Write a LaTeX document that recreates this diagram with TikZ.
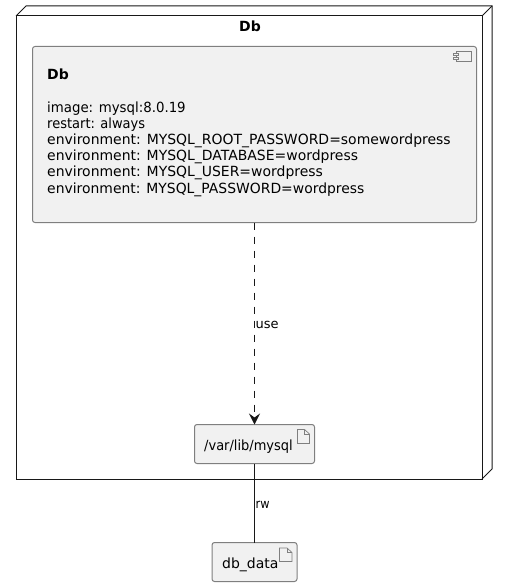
\documentclass[tikz,border=0pt]{standalone}
\usepackage{graphicx}
\usepackage{fontspec}
\setmainfont{DejaVu Sans}
\usetikzlibrary{arrows.meta}
\definecolor{boxfill}{HTML}{F1F1F1}
\definecolor{boxline}{HTML}{7F7F7F}
\definecolor{nodeline}{HTML}{181818}
\newcommand{\fitw}[2]{\scalebox{#1}[1]{#2}}
\tikzset{
  x=1pt,y=-1pt,
  boxshape/.style={draw=boxline,fill=boxfill,line width=1pt,rounded corners=2.5pt},
  nodeedge/.style={draw=nodeline,line width=1pt,line join=miter},
  iconline/.style={draw=boxline,line width=.7pt,fill=boxfill},
  txt/.style={font=\fontsize{14}{16}\selectfont,text=black,inner sep=0pt,anchor=base west},
  lbl/.style={font=\fontsize{13}{15}\selectfont,text=black,inner sep=0pt,anchor=base west},
  conn/.style={draw=nodeline,line width=1pt},
  conndash/.style={conn,dash pattern=on 7pt off 7pt,-{Stealth[length=11pt,width=11pt,inset=4pt]}}
}
\begin{document}
\begin{tikzpicture}
\useasboundingbox (0,0) rectangle (508,586);
% 3D node frame
\draw[nodeedge] (16,16) -- (26,6) -- (492,6) -- (492,469) -- (482,479);
\draw[nodeedge] (482,16) -- (492,6);
\draw[nodeedge] (16,16) rectangle (482,479);
\node[txt,font=\fontsize{14}{16}\selectfont\bfseries,anchor=base] (title) at (250,32) {Db};
% component
\draw[boxshape] (32.5,46.5) rectangle (476.5,222.5);
\coordinate (compBottom) at (254.5,222.5);
\draw[iconline] (456,51.5) rectangle (471.5,61.5);
\draw[iconline] (453.5,53.5) rectangle (458.5,55.5);
\draw[iconline] (453.5,57.5) rectangle (458.5,59.5);
\node[txt,font=\fontsize{14}{16}\selectfont\bfseries] (compTitle) at (47,79) {Db};
\node[txt] (l1) at (47,112) {\fitw{.952}{image: mysql:8.0.19}};
\node[txt] (l2) at (47,128) {\fitw{.93}{restart: always}};
\node[txt] (l3) at (47,144) {\fitw{.9975}{environment: MYSQL\_ROOT\_PASSWORD=somewordpress}};
\node[txt] (l4) at (47,160) {\fitw{.997}{environment: MYSQL\_DATABASE=wordpress}};
\node[txt] (l5) at (47,176) {\fitw{.997}{environment: MYSQL\_USER=wordpress}};
\node[txt] (l6) at (47,193) {\fitw{.994}{environment: MYSQL\_PASSWORD=wordpress}};
% artifacts
\draw[boxshape] (194.5,424.5) rectangle (314.5,463.5);
\coordinate (mysqlTop) at (254.5,424.5);
\coordinate (mysqlBottom) at (254.5,463.5);
\node[txt] (mysqlTxt) at (204,450) {\fitw{.928}{/var/lib/mysql}};
\draw[iconline] (297.5,429.5) -- (297.5,443.5) -- (309.5,443.5) -- (309.5,434) -- (304.5,429.5) -- cycle;
\draw[iconline,fill=none] (304.5,429.5) -- (304.5,434) -- (309.5,434);
\draw[boxshape] (212,542.5) rectangle (297,581.5);
\coordinate (dataTop) at (254.5,542.5);
\node[txt] (dataTxt) at (222,568) {db\_data};
\draw[iconline] (279.5,548) -- (279.5,561.5) -- (292,561.5) -- (292,552.5) -- (287,548) -- cycle;
\draw[iconline,fill=none] (287,548) -- (287,552.5) -- (292,552.5);
% connectors
\draw[conndash] (compBottom) -- (mysqlTop);
\draw[conn] (mysqlBottom) -- (dataTop);
\node[lbl] (useLbl) at (255.5,328) {use};
\node[lbl] (rwLbl) at (255.5,508) {\fitw{.87}{rw}};
\end{tikzpicture}
\end{document}
